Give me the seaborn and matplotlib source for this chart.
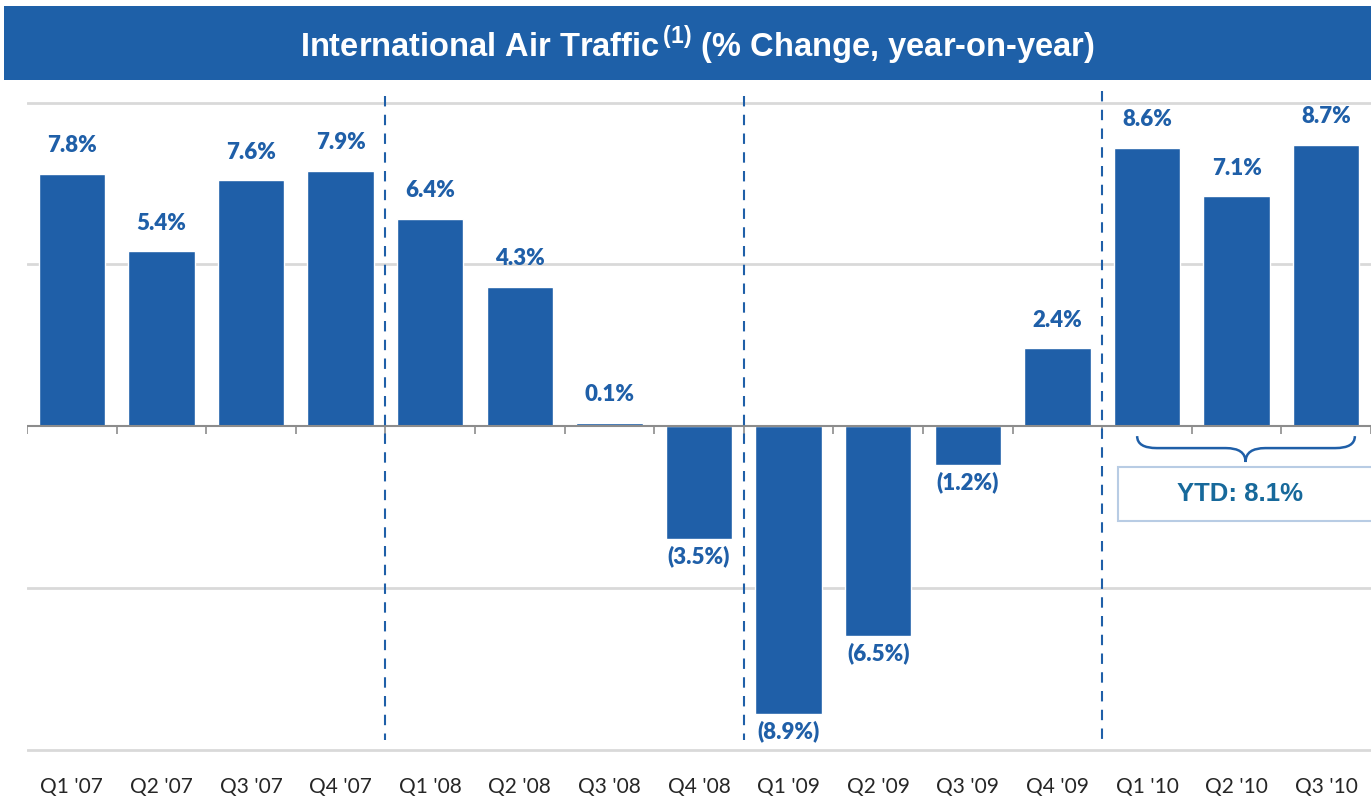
import matplotlib
matplotlib.use("Agg")
import matplotlib.pyplot as plt
import seaborn as sns
import pandas as pd
from matplotlib.path import Path
from matplotlib.patches import PathPatch, Rectangle

# --- dados ---
quarters = ["Q1 '07", "Q2 '07", "Q3 '07", "Q4 '07",
            "Q1 '08", "Q2 '08", "Q3 '08", "Q4 '08",
            "Q1 '09", "Q2 '09", "Q3 '09", "Q4 '09",
            "Q1 '10", "Q2 '10", "Q3 '10"]
traffic = [7.8, 5.4, 7.6, 7.9,
           6.4, 4.3, 0.1, -3.5,
           -8.9, -6.5, -1.2, 2.4,
           8.6, 7.1, 8.7]
year_breaks = [3.5, 7.5, 11.5]
ytd_text = "YTD: 8.1%"
title_main = "International Air Traffic"

BLUE = "#1F5FA8"
TEAL = "#17699B"

sns.set_style("white")
plt.rcParams["font.family"] = ["Lato", "DejaVu Sans"]
plt.rcParams["mathtext.fontset"] = "custom"
plt.rcParams["mathtext.rm"] = "Liberation Sans:bold"
plt.rcParams["mathtext.bf"] = "Liberation Sans:bold"

df = pd.DataFrame({"quarter": quarters, "traffic": traffic})

fig = plt.figure(figsize=(13.71, 7.97), dpi=100)
ax = fig.add_axes([27 / 1371, 0.0474, 1 - 27 / 1371, 0.840])

sns.barplot(data=df, x="quarter", y="traffic", color=BLUE, saturation=1,
            width=0.74, ax=ax, zorder=3)

ax.set_xlim(-0.5, len(quarters) - 0.5)
ax.set_ylim(-10.3, 10.4)
ax.set_yticks([-10, -5, 5, 10])
ax.yaxis.grid(True, color="#D9D9D9", linewidth=2)
ax.set_yticklabels([])
ax.tick_params(axis="y", length=0)
ax.tick_params(axis="x", length=0, labelsize=15, pad=13)
for s in ax.spines.values():
    s.set_visible(False)
ax.set_xlabel("")
ax.set_ylabel("")

# linha do zero + marcas
ax.axhline(0, color="#8C8C8C", linewidth=1.5, zorder=4)
ax.vlines([i - 0.5 for i in range(len(quarters) + 1)], -0.25, 0,
          color="#8C8C8C", linewidth=1.2, zorder=4)

# separadores de ano
for xb, top in zip(year_breaks, [10.2, 10.2, 10.35]):
    ax.plot([xb, xb], [top, -9.7], color=BLUE, linestyle=(0, (5, 4)),
            linewidth=1.5, zorder=5)

# rótulos
for i, v in enumerate(traffic):
    if v >= 0:
        lbl, y, va = f"{v:.1f}%", v + 0.55, "bottom"
    else:
        lbl, y, va = f"({abs(v):.1f}%)", v - 0.2, "top"
    ax.text(i, y, lbl, ha="center", va=va, color=BLUE, fontsize=16,
            fontweight="heavy", zorder=6)

# chave YTD
x0, x1, xc = 11.89, 14.32, 13.10
yt, ym, yb = -0.31, -0.68, -1.11
r = 0.22
verts = [(x0, yt), (x0, ym), (x0 + r, ym),
         (xc - r, ym),
         (xc, ym), (xc, yb),
         (xc, ym), (xc + r, ym),
         (x1 - r, ym),
         (x1, ym), (x1, yt)]
codes = [Path.MOVETO, Path.CURVE3, Path.CURVE3,
         Path.LINETO,
         Path.CURVE3, Path.CURVE3,
         Path.CURVE3, Path.CURVE3,
         Path.LINETO,
         Path.CURVE3, Path.CURVE3]
ax.add_patch(PathPatch(Path(verts, codes), fill=False, edgecolor=BLUE,
                       linewidth=1.8, zorder=6))
ax.add_patch(Rectangle((11.68, -2.94), 3.2, 1.67, facecolor="white",
                       edgecolor="#B8CCE4", linewidth=1.5, zorder=6))
ax.text(13.04, -2.10, ytd_text, ha="center", va="center", color=TEAL,
        fontsize=18.5, fontweight="bold", family="Liberation Sans", zorder=7)

# faixa do título
fig.patches.append(Rectangle((4 / 1371, 1 - 80 / 797), 1, 74 / 797,
                             transform=fig.transFigure, facecolor="#1E60A8",
                             edgecolor="none"))
fig.text(0.509, 1 - 45 / 797,
         title_main + r"$^{\,(1)}$ (% Change, year-on-year)",
         ha="center", va="center", color="white", fontsize=23.5,
         fontweight="bold", family="Liberation Sans")

fig.savefig("out.png", dpi=100)
